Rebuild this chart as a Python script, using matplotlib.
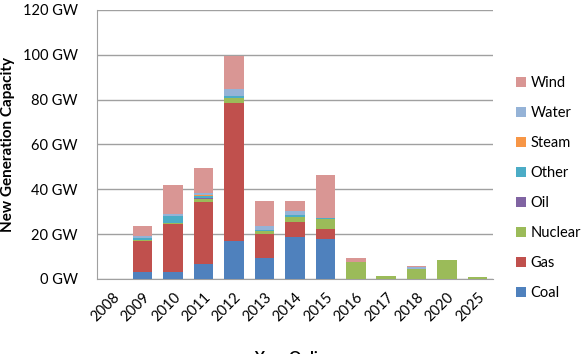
import numpy as np
import matplotlib.pyplot as plt

# ================= DATA =================

years = ["2008", "2009", "2010", "2011", "2012", "2013", "2014",
         "2015", "2016", "2017", "2018", "2020", "2025"]

coal = [0, 3.0, 3.1, 6.7, 16.9, 9.5, 18.9, 17.8, 0, 0, 0, 0, 0]
gas = [0, 13.9, 21.5, 27.4, 61.4, 10.5, 6.7, 4.7, 0, 0, 0, 0, 0]
nuclear = [0, 0.3, 0.5, 1.5, 2.6, 1.5, 2.0, 4.3, 7.7, 1.3, 4.3, 8.5, 0.9]
oil = [0, 0, 0, 0.5, 0, 0, 0, 0, 0, 0, 0, 0, 0]
other = [0, 1.2, 2.8, 1.0, 0.9, 0.5, 1.0, 0.6, 0, 0, 0, 0, 0]
steam = [0, 0, 0, 0.2, 0, 0, 0, 0, 0, 0, 0, 0, 0]
water = [0, 0.6, 1.1, 1.0, 2.8, 1.7, 1.5, 0, 0, 0, 1.2, 0, 0]
wind = [0, 4.4, 13.0, 11.4, 14.9, 10.9, 4.5, 18.8, 1.5, 0, 0.3, 0, 0]

series = [
    ("Coal", coal, "#4F81BD"),
    ("Gas", gas, "#C0504D"),
    ("Nuclear", nuclear, "#9BBB59"),
    ("Oil", oil, "#8064A2"),
    ("Other", other, "#4BACC6"),
    ("Steam", steam, "#F79646"),
    ("Water", water, "#95B3D7"),
    ("Wind", wind, "#D99694"),
]

# ================= PLOT =================

plt.rcParams["font.family"] = ["Lato", "DejaVu Sans"]

fig = plt.figure(figsize=(5.88, 3.54), dpi=100)
ax = fig.add_axes([0.165, 0.212, 0.673, 0.760])

x = np.arange(len(years))
bottom = np.zeros(len(years))
for name, vals, color in series:
    vals = np.array(vals, dtype=float)
    ax.bar(x, vals, width=0.64, bottom=bottom, color=color, label=name, zorder=3)
    bottom += vals

ax.set_xlim(-0.5, len(years) - 0.5)
ax.set_ylim(0, 120)
ax.set_yticks(range(0, 121, 20))
ax.set_yticklabels([f"{v} GW" for v in range(0, 121, 20)], fontsize=10.5)
ax.set_xticks(x)
ax.set_xticklabels(years, rotation=45, ha="right", rotation_mode="anchor", fontsize=10.5)
ax.tick_params(axis="both", length=0)
ax.tick_params(axis="y", pad=14)
ax.tick_params(axis="x", pad=8)

ax.grid(axis="y", color="#a0a0a0", linewidth=1, zorder=0)
for side in ["top", "right"]:
    ax.spines[side].set_visible(False)
ax.spines["left"].set_color("#a0a0a0")
ax.spines["bottom"].set_color("#a0a0a0")

fig.text(0.013, 0.593, "New Generation Capacity", rotation=90, ha="center", va="center",
         fontsize=11, fontweight="bold")
fig.text(0.5, -0.012, "Year Online", ha="center", va="center", fontsize=11, fontweight="bold")

handles, labels = ax.get_legend_handles_labels()
ax.legend(handles[::-1], labels[::-1], loc="center left", bbox_to_anchor=(1.025, 0.338),
          frameon=False, fontsize=10.5, handlelength=0.7, handleheight=0.7,
          handletextpad=0.3, labelspacing=1.1)

fig.savefig("out.png", dpi=100)
